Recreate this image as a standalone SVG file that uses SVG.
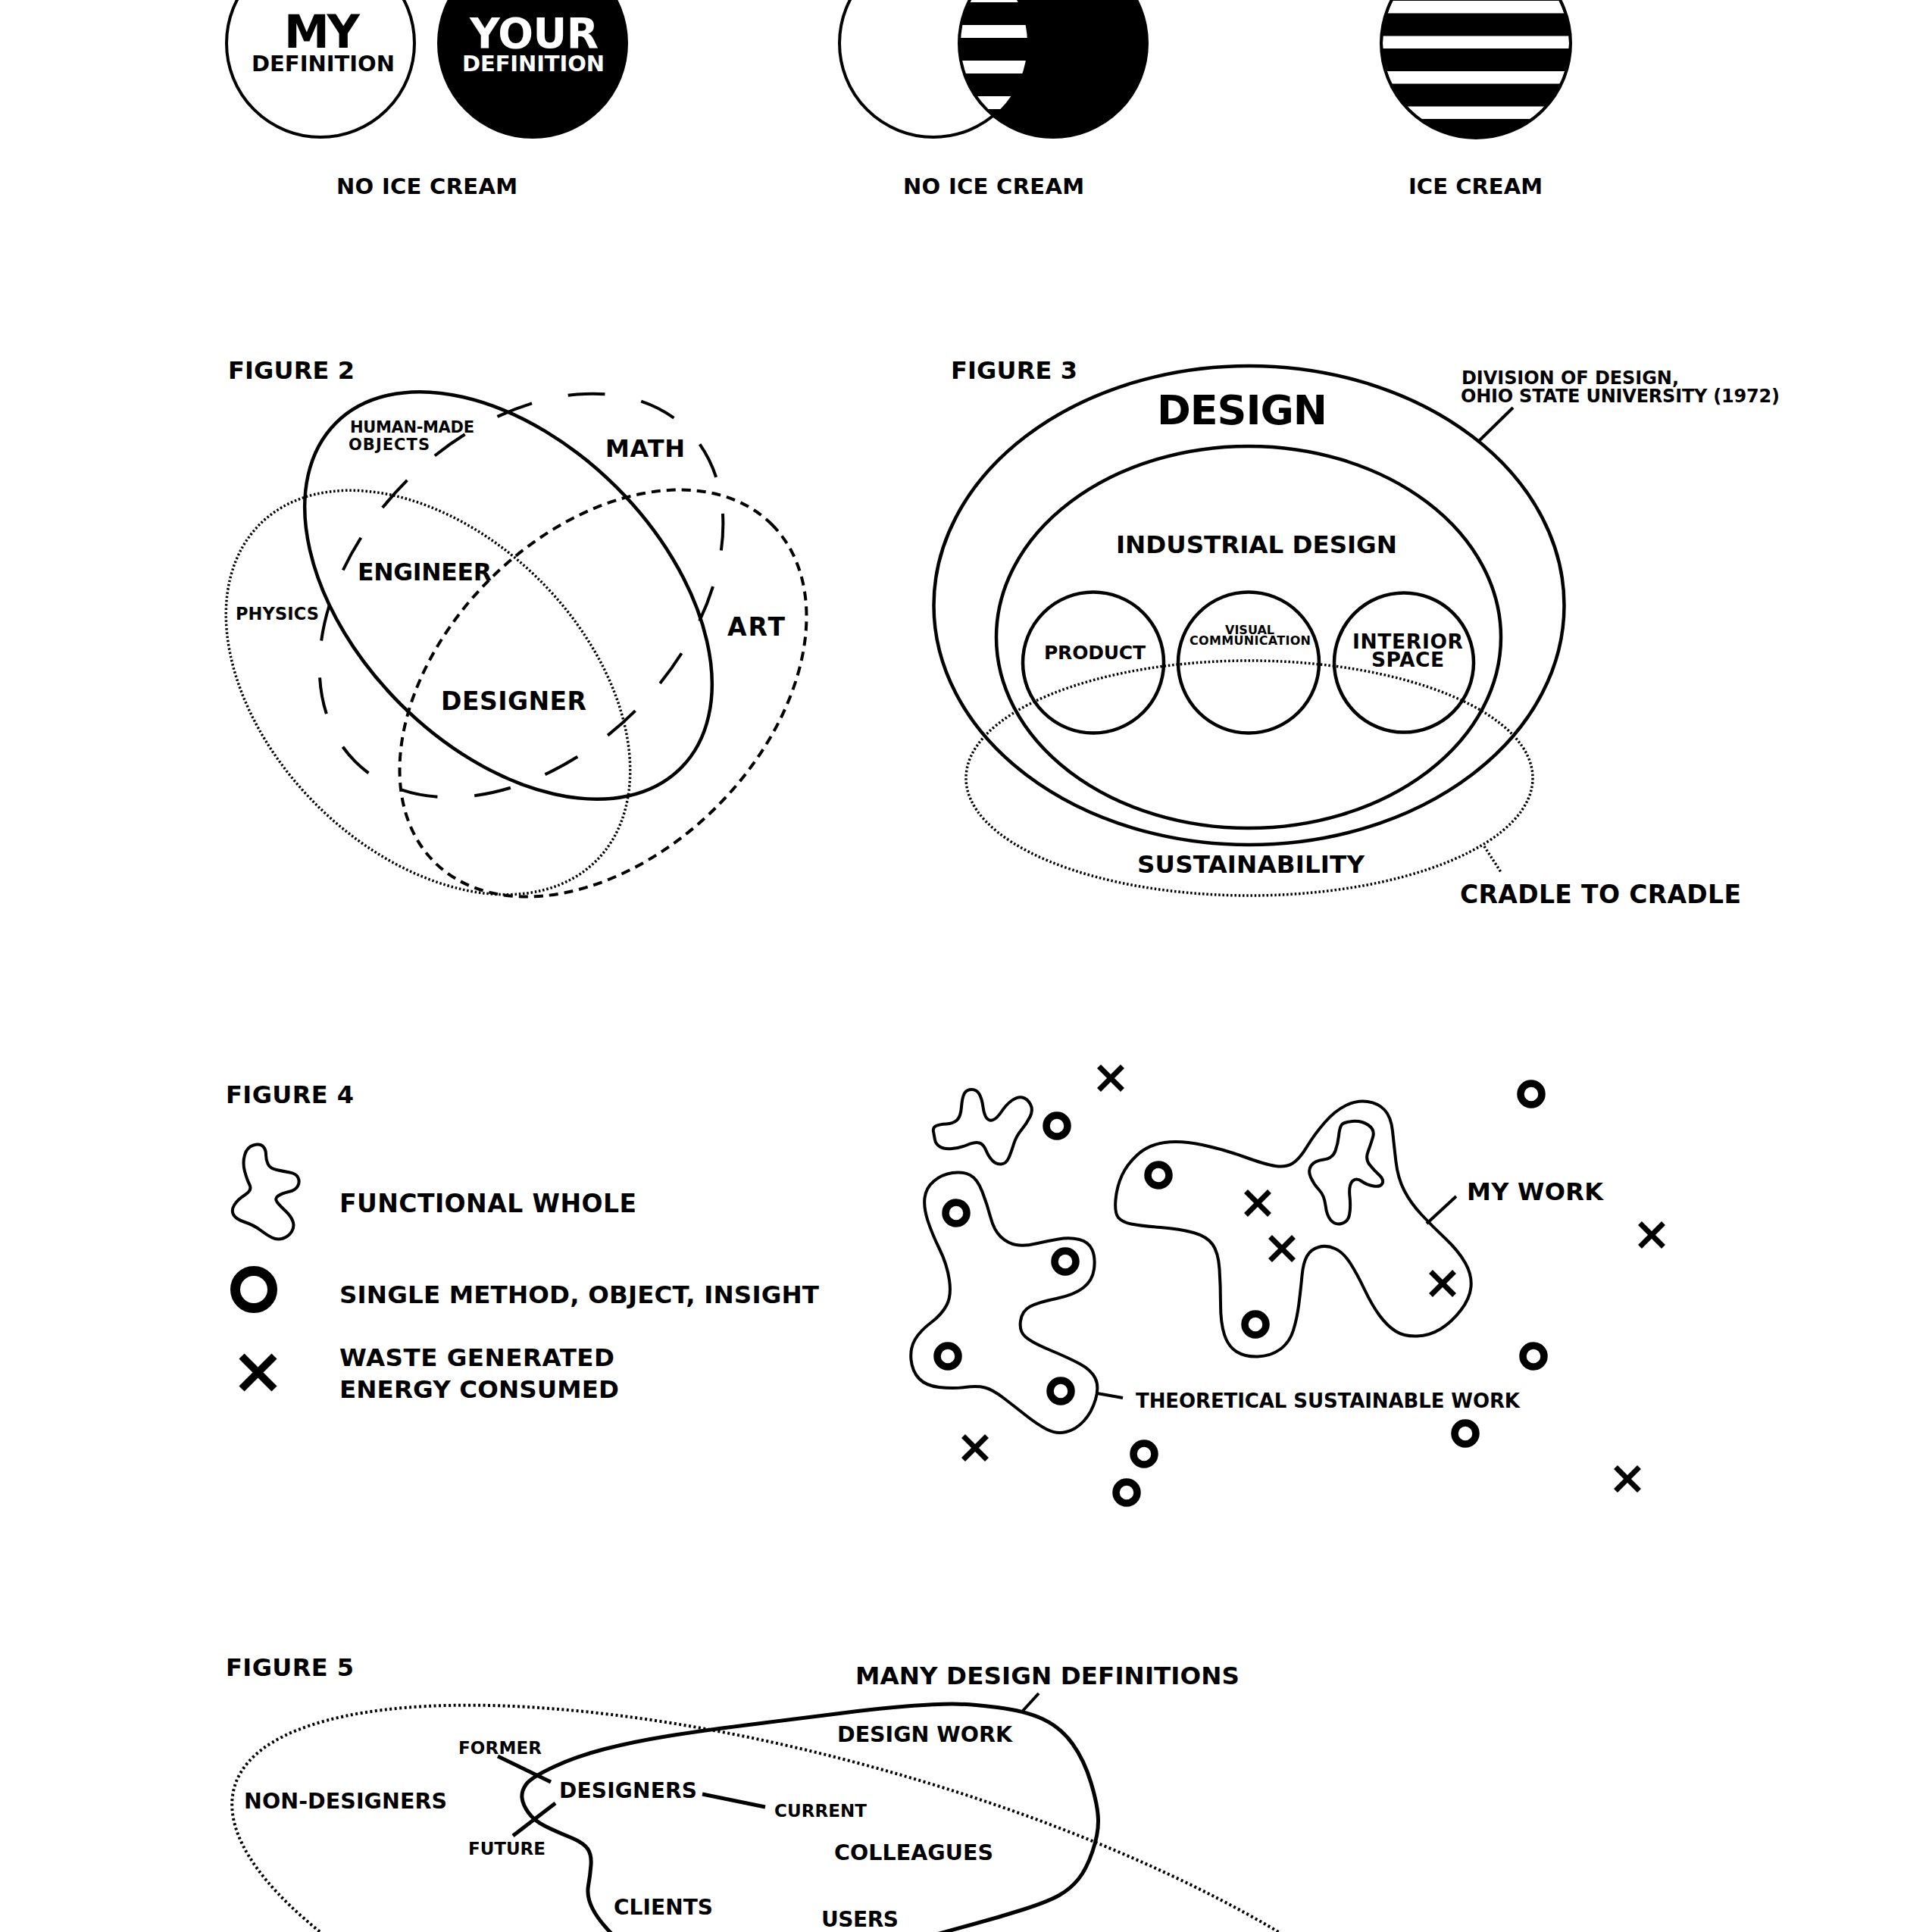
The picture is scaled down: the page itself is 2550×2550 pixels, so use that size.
<svg xmlns="http://www.w3.org/2000/svg" width="2550" height="2550" viewBox="0 0 2550 2550">
<style>
text{font-family:"DejaVu Sans","Liberation Sans",sans-serif;font-weight:bold;fill:#000}
.wt{fill:#fff}
.ln{fill:none;stroke:#000;stroke-width:4.5}
.ld{fill:none;stroke:#000;stroke-width:4;stroke-dasharray:48.8 48.8;stroke-dashoffset:72}
.sd{fill:none;stroke:#000;stroke-width:4;stroke-dasharray:12 8}
.dot{fill:none;stroke:#000;stroke-width:3.5;stroke-dasharray:2.5 2.8}
.dot5{fill:none;stroke:#000;stroke-width:4;stroke-dasharray:3 3.5}
.ring{fill:none;stroke:#000;stroke-width:9.5}
.x{stroke:#000;stroke-width:7}
.lead{fill:none;stroke:#000;stroke-width:4}
.lead5{fill:none;stroke:#000;stroke-width:5}
</style>
<defs>
<clipPath id="cL"><circle cx="1232" cy="57" r="124"/></clipPath>
<clipPath id="cR"><circle cx="1390" cy="57" r="122"/></clipPath>
<clipPath id="cI"><circle cx="1948" cy="57" r="123"/></clipPath>
<circle id="ring" r="14" class="ring"/>
<path id="xm" d="M-15.5,-15.5L15.5,15.5M15.5,-15.5L-15.5,15.5" class="x"/>
</defs>
<rect width="2550" height="2550" fill="#fff"/>

<!-- FIGURE 1 -->
<g id="fig1-my-definition">
<circle cx="423" cy="57" r="124" fill="#fff" stroke="#000" stroke-width="4"/>
<text x="375" y="63" font-size="60" textLength="100">MY</text>
<text x="332" y="94" font-size="29" textLength="189">DEFINITION</text>
</g>
<g id="fig1-your-definition">
<circle cx="703" cy="57" r="124" fill="#000" stroke="#000" stroke-width="4"/>
<text class="wt" x="620" y="63" font-size="55" textLength="170">YOUR</text>
<text class="wt" x="610" y="94" font-size="29" textLength="188">DEFINITION</text>
</g>
<text id="label-no-ice-cream-1" x="444" y="256" font-size="29" textLength="239">NO ICE CREAM</text>

<g id="fig1-overlap">
<circle cx="1232" cy="57" r="124" fill="#fff" stroke="#000" stroke-width="4"/>
<circle cx="1390" cy="57" r="124" fill="#000" stroke="#000" stroke-width="4"/>
<g clip-path="url(#cR)"><g clip-path="url(#cL)" fill="#fff">
<rect x="1250" y="-14" width="120" height="17"/>
<rect x="1250" y="33" width="120" height="17"/>
<rect x="1250" y="80" width="120" height="17"/>
<rect x="1250" y="127" width="120" height="17"/>
</g></g>
</g>
<text id="label-no-ice-cream-2" x="1192" y="256" font-size="29" textLength="239">NO ICE CREAM</text>

<g id="fig1-ice-cream">
<circle cx="1948" cy="57" r="125" fill="#000"/>
<g clip-path="url(#cI)" fill="#fff">
<rect x="1815" y="1" width="270" height="16.5"/>
<rect x="1815" y="47.5" width="270" height="16.5"/>
<rect x="1815" y="94" width="270" height="16.5"/>
<rect x="1815" y="140.5" width="270" height="16.5"/>
</g>
<circle cx="1948" cy="57" r="125" fill="none" stroke="#000" stroke-width="4"/>
</g>
<text id="label-ice-cream" x="1859" y="256" font-size="29" textLength="177">ICE CREAM</text>

<!-- FIGURE 2 -->
<text id="fig2-title" x="301" y="500" font-size="32" textLength="167">FIGURE 2</text>
<g id="fig2-physics"><ellipse cx="565" cy="914" rx="314" ry="209" transform="rotate(45 565 914)" class="dot"/>
<text x="311" y="818" font-size="22.5" textLength="110">PHYSICS</text></g>
<g id="fig2-art"><ellipse cx="796" cy="915" rx="315" ry="212" transform="rotate(-45 796 915)" class="sd"/>
<text x="960" y="839" font-size="33" textLength="76">ART</text></g>
<g id="fig2-math"><ellipse cx="688" cy="786" rx="310" ry="214" transform="rotate(-45 688 786)" class="ld"/>
<text x="799" y="603" font-size="32" textLength="105">MATH</text></g>
<g id="fig2-human-made"><ellipse cx="671" cy="786" rx="322" ry="202" transform="rotate(45 671 786)" class="ln"/>
<text x="462" y="571" font-size="21" textLength="164">HUMAN-MADE</text>
<text x="460" y="594" font-size="21" textLength="107">OBJECTS</text></g>
<text id="fig2-engineer" x="472" y="766" font-size="31.5" textLength="177">ENGINEER</text>
<text id="fig2-designer" x="582" y="937" font-size="33" textLength="192">DESIGNER</text>

<!-- FIGURE 3 -->
<text id="fig3-title" x="1255" y="500" font-size="32" textLength="167">FIGURE 3</text>
<g id="fig3-design"><ellipse cx="1648.5" cy="799" rx="416" ry="316" class="ln"/>
<text x="1527" y="560" font-size="54" textLength="225">DESIGN</text></g>
<g id="fig3-industrial"><ellipse cx="1648" cy="841" rx="333" ry="252" class="ln"/>
<text x="1473" y="730" font-size="32.5" textLength="371">INDUSTRIAL DESIGN</text></g>
<g id="fig3-product"><circle cx="1443" cy="874.5" r="93" class="ln"/>
<text x="1378" y="870" font-size="25" textLength="134">PRODUCT</text></g>
<g id="fig3-visual"><circle cx="1648" cy="874.5" r="93" class="ln"/>
<text x="1617" y="837" font-size="16" textLength="65">VISUAL</text>
<text x="1570" y="851" font-size="16" textLength="160">COMMUNICATION</text></g>
<g id="fig3-interior"><circle cx="1853" cy="874.5" r="92" class="ln"/>
<text x="1785" y="856" font-size="26.5" textLength="146">INTERIOR</text>
<text x="1810" y="880" font-size="26.5" textLength="96">SPACE</text></g>
<g id="fig3-sustainability"><ellipse cx="1649" cy="1027" rx="374" ry="155" class="dot"/>
<text x="1501" y="1152" font-size="32.5" textLength="300">SUSTAINABILITY</text></g>
<g id="fig3-division-label">
<text x="1929" y="507" font-size="24" textLength="287">DIVISION OF DESIGN,</text>
<text x="1928" y="531" font-size="24" textLength="421">OHIO STATE UNIVERSITY (1972)</text></g>
<text id="fig3-cradle-label" x="1927" y="1192" font-size="33" textLength="371">CRADLE TO CRADLE</text>

<!-- FIGURE 4 -->
<text id="fig4-title" x="298" y="1456" font-size="32" textLength="169">FIGURE 4</text>
<g id="fig4-legend-whole">
<path class="lead" d="M347,1513 Q343,1509 334.5,1511.5 Q326,1514 323,1524.5 Q320,1535 323,1546 Q326,1557 329.5,1564 Q333,1571 323.5,1577 Q314,1583 309.5,1590 Q305,1597 308,1603 Q311,1609 323,1613 Q335,1617 343.5,1623.5 Q352,1630 359,1633.5 Q366,1637 373.5,1634.5 Q381,1632 385,1625.5 Q389,1619 386.5,1612 Q384,1605 377,1598.5 Q370,1592 366,1587 Q362,1582 367,1578.5 Q372,1575 381,1573 Q390,1571 393,1565.5 Q396,1560 393.5,1554.5 Q391,1549 382.5,1547.5 Q374,1546 365,1544 Q356,1542 353.5,1536 Q351,1530 351,1523.5 Q351,1517 347,1513 Z"/>
<text x="448" y="1600" font-size="33" textLength="392">FUNCTIONAL WHOLE</text></g>
<g id="fig4-legend-single">
<circle cx="335" cy="1702" r="24.5" fill="none" stroke="#000" stroke-width="13"/>
<text x="448" y="1720" font-size="32.5" textLength="633">SINGLE METHOD, OBJECT, INSIGHT</text></g>
<g id="fig4-legend-waste">
<path d="M319,1790L362,1833M362,1790L319,1833" stroke="#000" stroke-width="10"/>
<text x="448" y="1803" font-size="32.5" textLength="363">WASTE GENERATED</text>
<text x="448" y="1845" font-size="32.5" textLength="369">ENERGY CONSUMED</text></g>

<g id="fig4-blob-small">
<path class="lead" d="M1234,1504.5 Q1233,1499 1232,1493.5 Q1231,1488 1235.5,1486 Q1240,1484 1249,1483.5 Q1258,1483 1263,1478.5 Q1268,1474 1269,1461 Q1270,1448 1273,1443 Q1276,1438 1282.5,1438 Q1289,1438 1292.5,1444 Q1296,1450 1297.5,1461 Q1299,1472 1302.5,1476 Q1306,1480 1311,1478 Q1316,1476 1322,1467 Q1328,1458 1335.5,1452.5 Q1343,1447 1349.5,1448.5 Q1356,1450 1360,1457.5 Q1364,1465 1359.5,1474 Q1355,1483 1348,1491.5 Q1341,1500 1338,1510 Q1335,1520 1331.5,1528 Q1328,1536 1321.5,1536.5 Q1315,1537 1310,1532 Q1305,1527 1301.5,1518.5 Q1298,1510 1292.5,1508.5 Q1287,1507 1277,1511 Q1267,1515 1256.5,1516 Q1246,1517 1240.5,1513.5 Q1235,1510 1234,1504.5 Z"/></g>
<g id="fig4-theoretical-work">
<path class="lead" d="M1257,1548 Q1271,1546 1280.5,1551 Q1290,1556 1296.5,1573 Q1303,1590 1307.5,1607 Q1312,1624 1321,1632.5 Q1330,1641 1341,1643 Q1352,1645 1367,1641.5 Q1382,1638 1397,1635.5 Q1412,1633 1424.5,1636 Q1437,1639 1441.5,1649.5 Q1446,1660 1444,1675 Q1442,1690 1430,1699.5 Q1418,1709 1394,1714 Q1370,1719 1359.5,1724.5 Q1349,1730 1347,1743.5 Q1345,1757 1353.5,1764.5 Q1362,1772 1386,1782 Q1410,1792 1425,1800 Q1440,1808 1445.5,1819 Q1451,1830 1446,1847 Q1441,1864 1430.5,1875.5 Q1420,1887 1407,1890 Q1394,1893 1381.5,1886.5 Q1369,1880 1354.5,1868.5 Q1340,1857 1325,1845.5 Q1310,1834 1300,1831.5 Q1290,1829 1273.5,1831 Q1257,1833 1239.5,1831 Q1222,1829 1213,1819.5 Q1204,1810 1202.5,1794.5 Q1201,1779 1208,1767.5 Q1215,1756 1229,1745.5 Q1243,1735 1249.5,1722.5 Q1256,1710 1253,1689.5 Q1250,1669 1240,1648.5 Q1230,1628 1224.5,1611 Q1219,1594 1220.5,1581 Q1222,1568 1232.5,1559 Q1243,1550 1257,1548 Z"/>
<text x="1499" y="1858" font-size="26" textLength="507">THEORETICAL SUSTAINABLE WORK</text></g>
<g id="fig4-my-work">
<path class="lead" d="M1476,1607 Q1471,1601 1472.5,1583.5 Q1474,1566 1481,1551 Q1488,1536 1502,1523.5 Q1516,1511 1537,1508 Q1558,1505 1586.5,1511 Q1615,1517 1642.5,1527 Q1670,1537 1683.5,1539 Q1697,1541 1706,1535.5 Q1715,1530 1725,1513.5 Q1735,1497 1748.5,1481.5 Q1762,1466 1776.5,1459 Q1791,1452 1805,1454 Q1819,1456 1827.5,1465 Q1836,1474 1838,1493 Q1840,1512 1842.5,1533.5 Q1845,1555 1853.5,1571.5 Q1862,1588 1876.5,1603.5 Q1891,1619 1908,1635 Q1925,1651 1934,1667 Q1943,1683 1941.5,1698.5 Q1940,1714 1928,1729.5 Q1916,1745 1901.5,1754 Q1887,1763 1870,1763.5 Q1853,1764 1842,1757 Q1831,1750 1821,1736.5 Q1811,1723 1801,1702 Q1791,1681 1782,1667 Q1773,1653 1762,1648 Q1751,1643 1740.5,1646 Q1730,1649 1725,1658 Q1720,1667 1718.5,1683.5 Q1717,1700 1714.5,1720 Q1712,1740 1707,1756 Q1702,1772 1689.5,1781 Q1677,1790 1660,1790.5 Q1643,1791 1632,1784 Q1621,1777 1616,1761.5 Q1611,1746 1611,1721.5 Q1611,1697 1609.5,1675 Q1608,1653 1600.5,1642.5 Q1593,1632 1575.5,1627 Q1558,1622 1531.5,1620 Q1505,1618 1493,1615.5 Q1481,1613 1476,1607 Z"/>
<path class="lead" d="M1770.5,1485 Q1773,1481 1785,1480 Q1797,1479 1806,1485 Q1815,1491 1812,1501 Q1809,1511 1805.5,1520.5 Q1802,1530 1807.5,1537 Q1813,1544 1820,1550.5 Q1827,1557 1824.5,1562 Q1822,1567 1813,1565.5 Q1804,1564 1797,1559 Q1790,1554 1785,1559 Q1780,1564 1781.5,1579 Q1783,1594 1781,1603.5 Q1779,1613 1770.5,1615 Q1762,1617 1756.5,1610.5 Q1751,1604 1749.5,1591 Q1748,1578 1741,1570.5 Q1734,1563 1730,1554 Q1726,1545 1730.5,1538.5 Q1735,1532 1747,1530.5 Q1759,1529 1762.5,1519 Q1766,1509 1767,1499 Q1768,1489 1770.5,1485 Z"/>
<text x="1936" y="1584" font-size="32" textLength="180">MY WORK</text></g>
<g id="fig4-items">
<use href="#ring" x="2021" y="1444"/>
<use href="#ring" x="1395" y="1486"/>
<use href="#ring" x="1529" y="1551"/>
<use href="#ring" x="1262" y="1601"/>
<use href="#ring" x="1406" y="1665"/>
<use href="#ring" x="1657" y="1748"/>
<use href="#ring" x="1251" y="1790"/>
<use href="#ring" x="1400" y="1836"/>
<use href="#ring" x="2024" y="1790"/>
<use href="#ring" x="1934" y="1892"/>
<use href="#ring" x="1510" y="1919"/>
<use href="#ring" x="1487" y="1970"/>
<use href="#xm" x="1466" y="1423"/>
<use href="#xm" x="1660" y="1588"/>
<use href="#xm" x="1692" y="1648"/>
<use href="#xm" x="1904" y="1694"/>
<use href="#xm" x="2180" y="1630"/>
<use href="#xm" x="1287" y="1911"/>
<use href="#xm" x="2148" y="1952"/>
</g>

<!-- FIGURE 5 -->
<text id="fig5-title" x="298" y="2212" font-size="32" textLength="169">FIGURE 5</text>
<g id="fig5-non-designers"><ellipse cx="1112" cy="2589" rx="835" ry="258" transform="rotate(16 1112 2589)" class="dot5"/>
<text x="322" y="2387" font-size="28.5" textLength="268">NON-DESIGNERS</text></g>
<g id="fig5-design-definitions">
<path fill="none" stroke="#000" stroke-width="5" d="M1257,2249 Q1279,2249 1316,2253.5 Q1353,2258 1376.5,2269 Q1400,2280 1415.5,2301.5 Q1431,2323 1440,2353 Q1449,2383 1449.5,2401.5 Q1450,2420 1442,2443.5 Q1434,2467 1423.5,2480 Q1413,2493 1398,2501.5 Q1383,2510 1350,2520.5 Q1317,2531 1283.5,2540 Q1250,2549 1140,2579.5 Q1030,2610 930,2592.5 Q830,2575 810,2555 Q790,2535 782,2519 Q774,2503 776.5,2489 Q779,2475 780,2461.5 Q781,2448 775.5,2440 Q770,2432 751.5,2424.5 Q733,2417 719,2410 Q705,2403 697.5,2392.5 Q690,2382 689,2373 Q688,2364 694.5,2355 Q701,2346 731,2332 Q761,2318 798,2308.5 Q835,2299 881,2291.5 Q927,2284 996.5,2275.5 Q1066,2267 1112,2261 Q1158,2255 1196.5,2252 Q1235,2249 1257,2249 Z"/>
<text x="1105" y="2299" font-size="28.5" textLength="231">DESIGN WORK</text></g>
<text id="fig5-many" x="1129" y="2223" font-size="32.5" textLength="507">MANY DESIGN DEFINITIONS</text>
<text id="fig5-designers" x="738" y="2373" font-size="28" textLength="182">DESIGNERS</text>
<text id="fig5-former" x="605" y="2315" font-size="23" textLength="110">FORMER</text>
<text id="fig5-current" x="1022" y="2398" font-size="23" textLength="122">CURRENT</text>
<text id="fig5-future" x="618" y="2448" font-size="23" textLength="102">FUTURE</text>
<text id="fig5-colleagues" x="1101" y="2455" font-size="28.5" textLength="210">COLLEAGUES</text>
<text id="fig5-clients" x="810" y="2527" font-size="28" textLength="131">CLIENTS</text>
<text id="fig5-users" x="1084" y="2543" font-size="28" textLength="102">USERS</text>

<!-- CONNECTORS -->
<g id="connectors">
<line class="lead" x1="1951" y1="583" x2="1997" y2="538"/>
<line class="dot" x1="1959" y1="1117" x2="1981" y2="1151"/>
<line class="lead" x1="1883" y1="1615" x2="1922" y2="1579"/>
<line class="lead" x1="1448" y1="1839" x2="1482" y2="1845"/>
<line class="lead" x1="1371" y1="2235" x2="1350" y2="2258"/>
<line class="lead5" x1="657" y1="2318" x2="727" y2="2352"/>
<line class="lead5" x1="733" y1="2380" x2="677" y2="2423"/>
<line class="lead5" x1="927" y1="2368" x2="1010" y2="2385"/>
</g>
</svg>
